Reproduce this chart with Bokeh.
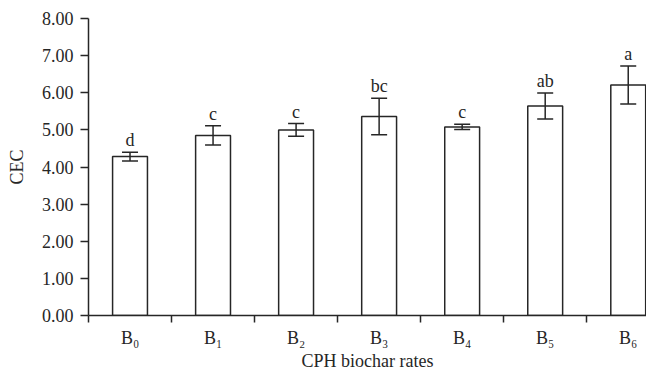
from bokeh.plotting import figure
from bokeh.models import Range1d, LinearAxis, FixedTicker, Whisker, ColumnDataSource, NumeralTickFormatter, TeeHead
from bokeh.core.properties import value
from bokeh.embed import file_html
from bokeh.resources import INLINE

categories = ["B\u2080", "B\u2081", "B\u2082", "B\u2083", "B\u2084", "B\u2085", "B\u2086"]
cec = [4.28, 4.85, 5.00, 5.36, 5.08, 5.64, 6.21]
err = [0.12, 0.26, 0.17, 0.49, 0.07, 0.35, 0.51]
letters = ["d", "c", "c", "bc", "c", "ab", "a"]
y_ticks = [0, 1, 2, 3, 4, 5, 6, 7, 8]

FONT = "Liberation Serif"
INK = "#262626"

xs = [i + 0.5 for i in range(len(categories))]
src = ColumnDataSource(dict(
    x=xs, top=cec,
    upper=[v + e for v, e in zip(cec, err)],
    lower=[v - e for v, e in zip(cec, err)],
    letter=letters,
))

p = figure(width=646, height=373, x_range=Range1d(0, 6.72), y_range=Range1d(0, 8),
           output_backend="svg", toolbar_location=None,
           x_axis_type=None, y_axis_type=None,
           min_border_left=88, min_border_top=18, min_border_right=0, min_border_bottom=57)
p.outline_line_color = None
p.xgrid.visible = False
p.ygrid.visible = False

p.vbar(x="x", top="top", bottom=0, width=0.42, source=src,
       fill_color="white", line_color=INK, line_width=1.5)

w = Whisker(source=src, base="x", upper="upper", lower="lower",
            line_color=INK, line_width=1.5, level="overlay",
            upper_head=TeeHead(size=16, line_color=INK, line_width=1.5),
            lower_head=TeeHead(size=16, line_color=INK, line_width=1.5))
p.add_layout(w)

p.text(x="x", y="upper", text="letter", source=src, text_align="center",
       text_baseline="alphabetic", y_offset=-12, text_font=value(FONT),
       text_font_size="18px", text_color=INK)

yax = LinearAxis(ticker=FixedTicker(ticks=y_ticks, minor_ticks=[]),
                 formatter=NumeralTickFormatter(format="0.00"))
yax.axis_label = "CEC"
yax.axis_label_text_font = FONT
yax.axis_label_text_font_size = "18px"
yax.axis_label_text_font_style = "normal"
yax.axis_label_text_color = INK
yax.axis_label_standoff = 12
yax.major_label_text_font = FONT
yax.major_label_text_font_size = "18px"
yax.major_label_text_color = INK
yax.major_label_standoff = 7
yax.major_tick_in = 0
yax.major_tick_out = 8
yax.minor_tick_line_color = None
yax.axis_line_color = INK
yax.axis_line_width = 1.5
yax.major_tick_line_color = INK
yax.major_tick_line_width = 1.5
p.add_layout(yax, "left")

xax = LinearAxis(ticker=FixedTicker(ticks=xs, minor_ticks=[i for i in range(len(categories) + 1)]))
xax.major_label_overrides = {x: c for x, c in zip(xs, categories)}
xax.axis_label = "CPH biochar rates"
xax.axis_label_text_font = FONT
xax.axis_label_text_font_size = "18px"
xax.axis_label_text_font_style = "normal"
xax.axis_label_text_color = INK
xax.axis_label_standoff = 0
xax.major_label_text_font = FONT
xax.major_label_text_font_size = "18px"
xax.major_label_text_color = INK
xax.major_label_standoff = 5
xax.major_tick_line_color = None
xax.major_tick_in = 0
xax.major_tick_out = 0
xax.minor_tick_in = 0
xax.minor_tick_out = 7
xax.minor_tick_line_color = INK
xax.minor_tick_line_width = 1.5
xax.axis_line_color = INK
xax.axis_line_width = 1.5
p.add_layout(xax, "below")

open("out.html", "w").write(file_html(p, INLINE))
